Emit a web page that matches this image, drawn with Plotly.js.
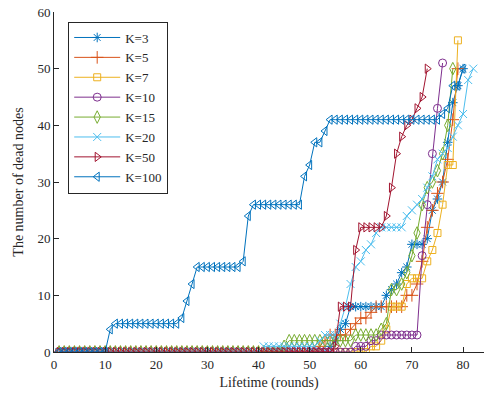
<!DOCTYPE html>
<html>
<head>
<meta charset="utf-8">
<script src="https://cdn.plot.ly/plotly-3.0.1.min.js"></script>
<style>
  html, body { margin: 0; padding: 0; background: #fff; }
  #chart { width: 484px; height: 396px; }
</style>
</head>
<body>
<div id="chart"></div>
<script>
// Rounds (x values)
const rounds = [1,2,3,4,5,6,7,8,9,10,11,12,13,14,15,16,17,18,19,20,21,22,23,24,25,26,27,28,29,30,
  31,32,33,34,35,36,37,38,39,40,41,42,43,44,45,46,47,48,49,50,51,52,53,54,55,56,57,58,59,60,
  61,62,63,64,65,66,67,68,69,70,71,72,73,74,75,76,77,78,79,80,81,82];

const seriesNames = ['K=3','K=5','K=7','K=10','K=15','K=20','K=50','K=100'];

// Number of dead nodes per round
const k3 = [0,0,0,0,0,0,0,0,0,0, 0,0,0,0,0,0,0,0,0,0, 0,0,0,0,0,0,0,0,0,0, 0,0,0,0,0,0,0,0,0,0,
  0,0,0,0,0,0,0,0,0,0, 0,0,0,
  1,2,4,5,8,8,8,8,8,8,8,10,11,12,14,15,19,19,19,20,25,27,30,37,44,47,50];
const k5 = [0,0,0,0,0,0,0,0,0,0, 0,0,0,0,0,0,0,0,0,0, 0,0,0,0,0,0,0,0,0,0, 0,0,0,0,0,0,0,0,0,0,
  0,0,0,0,0,0,0,0,0,0, 0,
  1,2,3,3,3,3,4,5,6,6,7,8,8,8,8,8,8,10,10,12,16,22,25,28,30,34,41,50];
const k7 = [0,0,0,0,0,0,0,0,0,0, 0,0,0,0,0,0,0,0,0,0, 0,0,0,0,0,0,0,0,0,0, 0,0,0,0,0,0,0,0,0,0,
  0,0,0,0,0,0,0,0,0,0, 0,0,0,0,0,0,0,0,0,0, 0,
  1,1,2,4,8,8,8,12,13,13,13,16,18,21,26,33,33,55];
const k10 = [0,0,0,0,0,0,0,0,0,0, 0,0,0,0,0,0,0,0,0,0, 0,0,0,0,0,0,0,0,0,0, 0,0,0,0,0,0,0,0,0,0,
  0,0,0,0,0,0,0,0,0,0, 0,0,0,0,0,0,0,0,
  1,1,1,2,2,3,3,3,3,3,3,3,3,17,26,35,43,51];
const k15 = [0,0,0,0,0,0,0,0,0,0, 0,0,0,0,0,0,0,0,0,0, 0,0,0,0,0,0,0,0,0,0, 0,0,0,0,0,0,0,0,0,0,
  0,0,0,0,
  1,2,2,2,2,2,2,2,2,2,2,2,2,2,3,3,3,3,3,4,5,11,11,12,14,17,21,26,29,30,32,35,40,50];
const k20 = [0,0,0,0,0,0,0,0,0,0, 0,0,0,0,0,0,0,0,0,0, 0,0,0,0,0,0,0,0,0,0, 0,0,0,0,0,0,0,0,0,0,
  1,1,1,1,1,1,1,1,1,1,1,
  2,3,3,3,5,8,12,15,16,18,19,21,22,22,22,22,22,24,25,26,27,29,31,34,35,36,38,40,42,48,50];
const k50 = [0,0,0,0,0,0,0,0,0,0, 0,0,0,0,0,0,0,0,0,0, 0,0,0,0,0,0,0,0,0,0, 0,0,0,0,0,0,0,0,0,0,
  0,0,0,0,0,0,0,0,0,0, 0,0,0,0,
  1,8,8,8,18,22,22,22,22,22,24,29,35,38,40,41,43,45,50];
const k100 = [0,0,0,0,0,0,0,0,0,0,
  4,5,5,5,5,5,5,5,5,5,5,5,5,5,6,9,12,15,15,15,15,15,15,15,15,15,16,24,
  26,26,26,26,26,26,26,26,26,26,31,33,37,37,39,
  41,41,41,41,41,41,41,41,41,41,41,41,41,41,41,41,41,41,41,41,41,41,
  42,43,47,47,50];

const seriesValues = [k3, k5, k7, k10, k15, k20, k50, k100];
const colors = ['#0072BD','#D95319','#EDB120','#7E2F8E','#77AC30','#4DBEEE','#A2142F','#0072BD'];
const symbols = ['asterisk-open','cross-thin-open','square-open','circle-open','diamond-tall-open',
  'x-thin-open','triangle-right-open','triangle-left-open'];
const sizes = [8, 9, 7, 8, 9, 8, 8, 8];

const traces = seriesNames.map((name, i) => ({
  type: 'scatter',
  mode: 'lines+markers',
  name: name,
  x: rounds.slice(0, seriesValues[i].length),
  y: seriesValues[i],
  line: { color: colors[i], width: 1 },
  marker: { symbol: symbols[i], size: sizes[i], color: colors[i],
            line: { color: colors[i], width: 1 } }
}));

const serif = 'Liberation Serif, Times New Roman, serif';
const axisFont = { family: serif, size: 13, color: '#262626' };

const layout = {
  width: 484, height: 396,
  margin: { l: 54, r: 0, t: 12, b: 44 },
  paper_bgcolor: '#ffffff', plot_bgcolor: '#ffffff',
  showlegend: true,
  legend: {
    x: 0.033, y: 0.972, xanchor: 'left', yanchor: 'top',
    bgcolor: '#ffffff', bordercolor: '#262626', borderwidth: 1,
    font: { family: serif, size: 13, color: '#262626' },
    itemwidth: 46,
    tracegroupgap: 0
  },
  xaxis: {
    range: [0, 84.1], tickvals: [0,10,20,30,40,50,60,70,80],
    showgrid: false, zeroline: false, showline: true, linecolor: '#262626', linewidth: 1,
    ticks: 'inside', ticklen: 5, tickcolor: '#262626', tickfont: axisFont,
    title: { text: 'Lifetime (rounds)', font: { family: serif, size: 14, color: '#262626' }, standoff: 6 }
  },
  yaxis: {
    range: [0, 60], tickvals: [0,10,20,30,40,50,60],
    showgrid: false, zeroline: false, showline: true, linecolor: '#262626', linewidth: 1,
    ticks: 'inside', ticklen: 5, tickcolor: '#262626', tickfont: axisFont,
    title: { text: 'The number of dead nodes', font: { family: serif, size: 14, color: '#262626' }, standoff: 10 }
  }
};

Plotly.newPlot('chart', traces, layout, { displayModeBar: false, staticPlot: true });
</script>
</body>
</html>
